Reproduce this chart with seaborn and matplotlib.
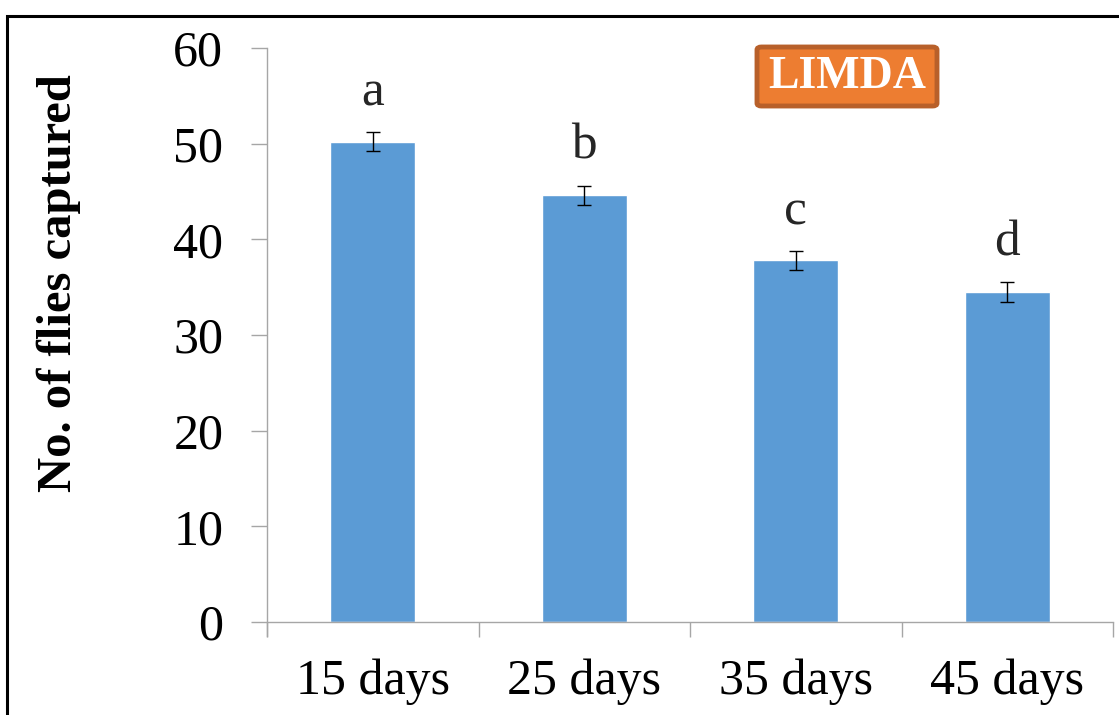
import matplotlib
matplotlib.use("Agg")
import matplotlib.pyplot as plt
import seaborn as sns
import pandas as pd
from matplotlib.patches import Rectangle, FancyBboxPatch
from matplotlib.ticker import FixedLocator

# Mean number of flies captured per trap age, with standard error
categories = ["15 days", "25 days", "35 days", "45 days"]
flies = [50.2, 44.6, 37.8, 34.5]
sem = [1.0, 1.0, 1.0, 1.0]
groups = ["a", "b", "c", "d"]
y_ticks = [0, 10, 20, 30, 40, 50, 60]
panel_title = "LIMDA"

sns.set_theme(style="white")
plt.rcParams["font.family"] = ["Liberation Serif", "DejaVu Serif"]

W, H = 1119, 715
fig = plt.figure(figsize=(W / 100, H / 100), dpi=100)
ax = fig.add_axes([267 / W, 1 - 622 / H, (1113 - 267) / W, (622 - 48) / H])

df = pd.DataFrame({"period": categories, "flies": flies})
sns.barplot(data=df, x="period", y="flies", color="#5B9BD5", width=0.4,
            saturation=1, errorbar=None, ax=ax)
xs = list(range(len(categories)))
ax.errorbar(xs, flies, yerr=sem, fmt="none", ecolor="black",
            elinewidth=1.0, capsize=5, capthick=1.0, zorder=3)

# significance letters above each bar
for x, v, e, g in zip(xs, flies, sem, groups):
    ax.text(x, v + e + 2.8, g, ha="center", va="baseline", fontsize=37)

ax.set_xlim(-0.5, len(categories) - 0.5)
ax.set_ylim(y_ticks[0], y_ticks[-1])
ax.set_yticks(y_ticks)
ax.set_yticklabels([str(t) for t in y_ticks])

# category labels centred, tick marks between categories
ax.set_xticks(xs)
ax.set_xticklabels(categories)
ax.xaxis.set_minor_locator(FixedLocator([i - 0.5 for i in range(len(categories) + 1)]))
ax.tick_params(axis="x", which="major", length=0, pad=26, labelsize=36, colors="black")
ax.tick_params(axis="x", which="minor", length=11, width=1.0, color="#A6A6A6", direction="out", bottom=True)
ax.tick_params(axis="y", which="major", length=11.5, width=1.0, color="#A6A6A6", direction="out",
               pad=20, labelsize=36, labelcolor="black", left=True)

ax.set_xlabel("")
ax.set_ylabel("No. of flies captured", fontsize=35, fontweight="bold", color="black")
ax.yaxis.set_label_coords((59 - 267) / (1113 - 267), (622 - 283) / (622 - 48))
ax.yaxis.label.set_verticalalignment("center")

for side in ("top", "right"):
    ax.spines[side].set_visible(False)
for side in ("left", "bottom"):
    ax.spines[side].set_color("#A6A6A6")
    ax.spines[side].set_linewidth(1.0)
ax.spines["left"].set_bounds(y_ticks[0] - (636 - 622) * 60 / 574, y_ticks[-1])
ax.set_ylim(y_ticks[0], y_ticks[-1])
ax.spines["left"].set_clip_on(False)

# orange panel label
box = FancyBboxPatch((757 / W, 1 - 106 / H), 180 / W, 59 / H,
                     boxstyle="round,pad=0,rounding_size=0.004",
                     transform=fig.transFigure, facecolor="#ED7D31",
                     edgecolor="#B8602A", linewidth=3.5)
fig.patches.append(box)
fig.text((757 + 90) / W, 1 - 77 / H, panel_title, ha="center", va="center",
         fontsize=33, fontweight="bold", color="white")

# outer frame
frame = Rectangle((7 / W, -0.05), 1.2, 1 - 16 / H + 0.05, transform=fig.transFigure,
                  fill=False, edgecolor="black", linewidth=2.2)
fig.patches.append(frame)

fig.savefig("out.png", dpi=100, facecolor="white")
